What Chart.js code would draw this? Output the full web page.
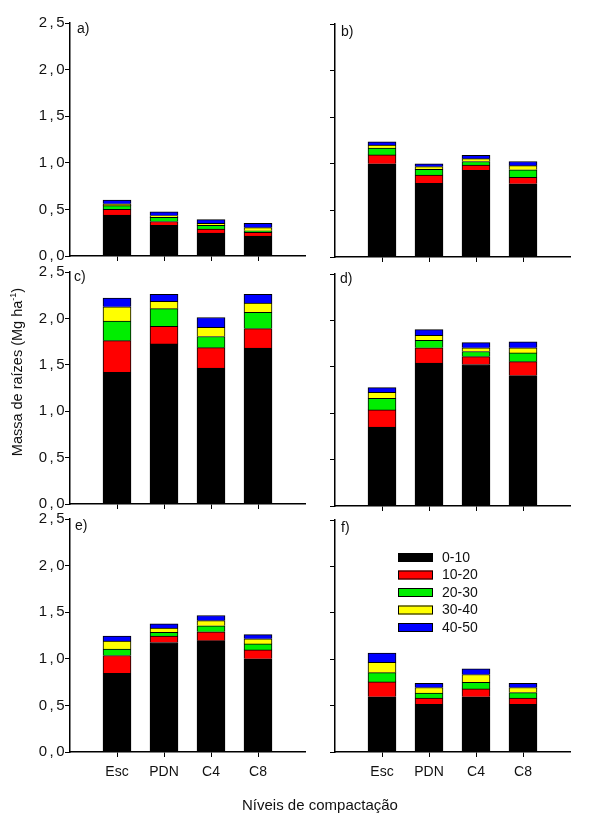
<!DOCTYPE html>
<html>
<head>
<meta charset="utf-8">
<script src="https://cdn.jsdelivr.net/npm/chart.js@4"></script>
<style>
  body { margin: 0; background: #fff; }
  #wrap { position: relative; width: 596px; height: 818px; font-family: "Liberation Sans", Arial, sans-serif; color: #111; }
  #wrap canvas { position: absolute; left: 0; top: 0; }
  .txt { position: absolute; font-size: 14px; white-space: nowrap; }
  sup { font-size: 9px; }
  #ytitle { left: -97px; top: 363px; width: 220px; height: 18px; line-height: 18px; text-align: center; font-size: 14.5px; transform: rotate(-90deg); }
  #xtitle { left: 220px; top: 796px; width: 200px; height: 18px; line-height: 18px; text-align: center; font-size: 15px; }
</style>
</head>
<body>
<div id="wrap">
  <div class="txt" style="left:77px;top:20px">a)</div>
  <div class="txt" style="left:341px;top:23px">b)</div>
  <div class="txt" style="left:74px;top:268px">c)</div>
  <div class="txt" style="left:340px;top:270px">d)</div>
  <div class="txt" style="left:75px;top:517px">e)</div>
  <div class="txt" style="left:341px;top:519px">f)</div>
  <div class="txt" id="ytitle">Massa de raízes (Mg ha<sup>-1</sup>)</div>
  <div class="txt" id="xtitle">Níveis de compactação</div>
</div>
<script>
const categories = ['Esc', 'PDN', 'C4', 'C8'];
const depths = ['0-10', '10-20', '20-30', '30-40', '40-50'];
const yTicks = [0, 0.5, 1, 1.5, 2, 2.5];

// a)
const a_0_10 = [0.44, 0.33, 0.245, 0.215];
const a_10_20 = [0.06, 0.04, 0.045, 0.04];
const a_20_30 = [0.04, 0.045, 0.04, 0.015];
const a_30_40 = [0.02, 0.02, 0.02, 0.035];
const a_40_50 = [0.04, 0.04, 0.04, 0.045];
// b)
const b_0_10 = [1.0, 0.79, 0.93, 0.785];
const b_10_20 = [0.095, 0.09, 0.055, 0.07];
const b_20_30 = [0.075, 0.06, 0.04, 0.08];
const b_30_40 = [0.03, 0.03, 0.03, 0.045];
const b_40_50 = [0.035, 0.03, 0.035, 0.045];
// c)
const c_0_10 = [1.42, 1.725, 1.465, 1.68];
const c_10_20 = [0.34, 0.19, 0.22, 0.21];
const c_20_30 = [0.21, 0.19, 0.12, 0.175];
const c_30_40 = [0.155, 0.08, 0.10, 0.10];
const c_40_50 = [0.095, 0.075, 0.105, 0.095];
// d)
const d_0_10 = [0.85, 1.54, 1.525, 1.405];
const d_10_20 = [0.185, 0.165, 0.085, 0.15];
const d_20_30 = [0.125, 0.08, 0.055, 0.095];
const d_30_40 = [0.065, 0.055, 0.04, 0.055];
const d_40_50 = [0.05, 0.06, 0.055, 0.065];
// e)
const e_0_10 = [0.845, 1.175, 1.195, 1.0];
const e_10_20 = [0.19, 0.07, 0.095, 0.095];
const e_20_30 = [0.07, 0.04, 0.065, 0.065];
const e_30_40 = [0.085, 0.045, 0.055, 0.055];
const e_40_50 = [0.055, 0.045, 0.055, 0.045];
// f)
const f_0_10 = [0.595, 0.515, 0.595, 0.515];
const f_10_20 = [0.16, 0.065, 0.085, 0.065];
const f_20_30 = [0.10, 0.055, 0.07, 0.06];
const f_30_40 = [0.11, 0.06, 0.085, 0.055];
const f_40_50 = [0.10, 0.045, 0.06, 0.045];

const colors = ['#000000', '#ff0000', '#00ee00', '#ffff00', '#0000ff'];
const font = { family: '"Liberation Sans", Arial, sans-serif', size: 14 };

// plot area of each panel in page pixels
const panels = [
  { series: [a_0_10, a_10_20, a_20_30, a_30_40, a_40_50], left: 70, right: 305, top: 23, bottom: 256, showY: true, showX: false },
  { series: [b_0_10, b_10_20, b_20_30, b_30_40, b_40_50], left: 335, right: 570, top: 24, bottom: 257, showY: false, showX: false },
  { series: [c_0_10, c_10_20, c_20_30, c_30_40, c_40_50], left: 70, right: 305, top: 272, bottom: 504, showY: true, showX: false },
  { series: [d_0_10, d_10_20, d_20_30, d_30_40, d_40_50], left: 335, right: 570, top: 274, bottom: 506, showY: false, showX: false },
  { series: [e_0_10, e_10_20, e_20_30, e_30_40, e_40_50], left: 70, right: 305, top: 519, bottom: 752, showY: true, showX: true },
  { series: [f_0_10, f_10_20, f_20_30, f_30_40, f_40_50], left: 335, right: 570, top: 520, bottom: 752, showY: false, showX: true, legend: true }
];

const boxLegend = {
  id: 'boxLegend',
  afterDraw(chart, args, opts) {
    if (!opts.show) return;
    const ctx = chart.ctx;
    ctx.save();
    ctx.font = '14px "Liberation Sans", Arial, sans-serif';
    ctx.textBaseline = 'middle';
    chart.data.datasets.forEach((ds, i) => {
      const y = 553 + i * 17.5;
      ctx.fillStyle = ds.backgroundColor;
      ctx.fillRect(398, y, 35, 9);
      ctx.strokeStyle = '#000';
      ctx.lineWidth = 1;
      ctx.strokeRect(398.5, y + 0.5, 34, 8);
      ctx.fillStyle = '#111';
      ctx.fillText(ds.label, 442, y + 5);
    });
    ctx.restore();
  }
};

// the y tick labels of the original are a little spread out
function spreadLabels(ax) {
  if (ax._spread) return;
  const draw = ax.drawLabels.bind(ax);
  ax.drawLabels = area => {
    ax.ctx.letterSpacing = '2.5px';
    draw(area);
    ax.ctx.letterSpacing = '0px';
  };
  ax._spread = true;
}

const wrap = document.getElementById('wrap');

panels.forEach(p => {
  const cv = document.createElement('canvas');
  cv.width = 596;
  cv.height = 818;
  wrap.insertBefore(cv, wrap.firstChild);

  new Chart(cv, {
    type: 'bar',
    data: {
      datasets: depths.map((d, i) => ({
        label: d,
        data: p.series[i].map((v, j) => ({ x: j + 1, y: v })),
        backgroundColor: colors[i],
        borderColor: '#000',
        borderWidth: 1,
        barThickness: 28
      }))
    },
    plugins: [boxLegend],
    options: {
      responsive: false,
      animation: false,
      layout: { padding: { left: p.left - 70, right: 596 - p.right, top: p.top, bottom: 818 - p.bottom - 35 } },
      plugins: {
        legend: { display: false },
        tooltip: { enabled: false },
        boxLegend: { show: !!p.legend }
      },
      scales: {
        x: {
          type: 'linear',
          stacked: true,
          offset: false,
          min: 0,
          max: 5,
          afterBuildTicks: ax => { ax.ticks = categories.map((c, i) => ({ value: i + 1 })); },
          afterFit: ax => { ax.height = 35; },
          ticks: {
            display: p.showX,
            autoSkip: false,
            maxRotation: 0,
            padding: 7,
            color: '#111',
            font: font,
            callback: v => categories[v - 1]
          },
          grid: { offset: false, drawOnChartArea: false, drawTicks: true, tickLength: 5, color: '#000', lineWidth: 1 },
          border: { color: '#000', width: 1.5 }
        },
        y: {
          stacked: true,
          min: 0,
          max: 2.5,
          afterBuildTicks: ax => { ax.ticks = yTicks.map(v => ({ value: v })); },
          afterFit: ax => { ax.width = 70; spreadLabels(ax); },
          ticks: {
            display: p.showY,
            padding: -2,
            color: '#111',
            font: { family: font.family, size: 15 },
            callback: v => v.toFixed(1).replace('.', ',')
          },
          grid: { drawOnChartArea: false, drawTicks: true, tickLength: 5, color: '#000', lineWidth: 1 },
          border: { color: '#000', width: 1.5 }
        }
      }
    }
  });
});
</script>
</body>
</html>
